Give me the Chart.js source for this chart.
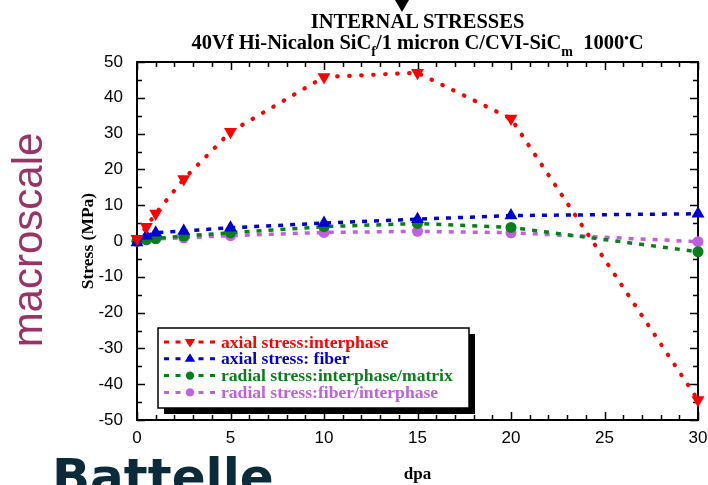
<!DOCTYPE html>
<html><head><meta charset="utf-8">
<script src="https://cdn.jsdelivr.net/npm/chart.js@4/dist/chart.umd.min.js"></script>
<style>
html,body{margin:0;padding:0;background:#fff;}
body{width:708px;height:485px;position:relative;overflow:hidden;}
#c{position:absolute;left:0;top:0;}
.title{position:absolute;left:117px;width:601px;text-align:center;font-family:"Liberation Serif","Times New Roman",serif;font-weight:bold;font-size:20.5px;line-height:20px;color:#000;white-space:nowrap;}
.sub{position:relative;top:7px;font-size:14px;}
.dot{position:relative;top:-7px;font-size:13px;}
#macro{position:absolute;left:-92px;top:215px;width:240px;height:50px;line-height:50px;text-align:center;font-family:"Liberation Sans",Arial,sans-serif;font-size:42px;color:#993366;transform:rotate(-90deg);white-space:nowrap;}
#battelle{position:absolute;left:52px;top:447px;font-family:"DejaVu Sans",sans-serif;font-weight:bold;font-size:50px;line-height:60px;color:#0b2b3a;white-space:nowrap;}
#arrow{position:absolute;left:395px;top:0;width:0;height:0;border-left:7px solid transparent;border-right:7px solid transparent;border-top:12px solid #000;}
</style></head>
<body>
<canvas id="c" width="708" height="485"></canvas>
<div id="t1" class="title" style="top:11px">INTERNAL STRESSES</div>
<div id="t2" class="title" style="top:32px">40Vf Hi-Nicalon SiC<span class="sub">f</span>/1 micron C/CVI-SiC<span class="sub">m</span>&nbsp; 1000<span class="dot">&#8226;</span>C</div>
<div id="macro">macroscale</div>
<div id="battelle">Battelle</div>
<div id="arrow"></div>
<script>
// ---- data ----
const dpa = [0, 0.5, 1, 2.5, 5, 10, 15, 20, 30];
const axialInterphase   = [0.6, 4.0, 7.7, 17.3, 30.5, 45.8, 47.0, 34.2, -44.4];
const axialFiber        = [-0.4, 1.5, 2.3, 2.8, 3.7, 5.0, 6.1, 7.1, 7.6];
const radialInterMatrix = [-0.1, 0.4, 0.7, 1.4, 2.3, 4.0, 4.9, 3.8, -3.0];
const radialFiberInter  = [0.0, 0.3, 0.6, 0.9, 1.5, 2.4, 2.7, 2.3, -0.2];
const seriesLabels = ['axial stress:interphase', 'axial stress: fiber', 'radial stress:interphase/matrix', 'radial stress:fiber/interphase'];
const xAxisTitle = 'dpa';
const yAxisTitle = 'Stress (MPa)';

const seriesColors = ['#ff0000', '#0000d0', '#08801a', '#c060e0'];
const seriesValues = [axialInterphase, axialFiber, radialInterMatrix, radialFiberInter];
const markerStyles = [
  {pointStyle:'triangle', rotation:180, radius:7.5},
  {pointStyle:'triangle', rotation:0, radius:7.5},
  {pointStyle:'circle', rotation:0, radius:5.5},
  {pointStyle:'circle', rotation:0, radius:5.5}
];

const datasets = seriesValues.map((vals, i) => ({
  label: seriesLabels[i],
  data: dpa.map((x, j) => ({x: x, y: vals[j]})),
  showLine: true,
  borderColor: seriesColors[i],
  backgroundColor: seriesColors[i],
  borderWidth: i === 0 ? 4.2 : 3.5,
  borderDash: i === 0 ? [0.5, 11.5] : [5, 7],
  borderCapStyle: i === 0 ? 'round' : 'butt',
  pointStyle: markerStyles[i].pointStyle,
  rotation: markerStyles[i].rotation,
  pointRadius: markerStyles[i].radius,
  pointHoverRadius: markerStyles[i].radius,
  pointBorderWidth: 0,
  pointBackgroundColor: seriesColors[i],
  tension: 0,
  clip: false
}));

const framePlugin = {
  id: 'frame',
  beforeDatasetsDraw(chart) {
    const ctx = chart.ctx, a = chart.chartArea;
    const xs = chart.scales.x, ys = chart.scales.y;
    ctx.save();
    ctx.strokeStyle = '#000';
    ctx.lineWidth = 1.5;
    for (let v = xs.min; v <= xs.max + 1e-9; v += 1) {
      const px = Math.round(xs.getPixelForValue(v)) + 0.5;
      const len = (v % 5 === 0) ? 8 : 5;
      ctx.beginPath();
      ctx.moveTo(px, a.bottom); ctx.lineTo(px, a.bottom - len);
      ctx.moveTo(px, a.top); ctx.lineTo(px, a.top + len);
      ctx.stroke();
    }
    for (let v = ys.min; v <= ys.max + 1e-9; v += 5) {
      const py = Math.round(ys.getPixelForValue(v)) + 0.5;
      const len = (v % 10 === 0) ? 8 : 5;
      ctx.beginPath();
      ctx.moveTo(a.left, py); ctx.lineTo(a.left + len, py);
      ctx.moveTo(a.right, py); ctx.lineTo(a.right - len, py);
      ctx.stroke();
    }
    ctx.lineWidth = 2;
    ctx.strokeRect(a.left, a.top, a.right - a.left, a.bottom - a.top);
    ctx.restore();
  }
};

const legendPlugin = {
  id: 'customLegend',
  afterDraw(chart) {
    const ctx = chart.ctx;
    const bx = 158, by = 328, bw = 311, bh = 80, sh = 6;
    ctx.save();
    ctx.fillStyle = '#000';
    ctx.fillRect(bx + sh, by + sh, bw, bh);
    ctx.fillStyle = '#fff';
    ctx.fillRect(bx, by, bw, bh);
    ctx.strokeStyle = '#000';
    ctx.lineWidth = 1.5;
    ctx.strokeRect(bx, by, bw, bh);
    chart.data.datasets.forEach((ds, i) => {
      const y = by + 14 + i * 16.8;
      ctx.strokeStyle = ds.borderColor;
      ctx.lineWidth = 3;
      ctx.setLineDash([5, 6.5]);
      ctx.lineCap = 'butt';
      ctx.beginPath();
      ctx.moveTo(164, y); ctx.lineTo(217, y);
      ctx.stroke();
      ctx.setLineDash([]);
      ctx.fillStyle = ds.borderColor;
      const mx = 190;
      ctx.beginPath();
      if (ds.pointStyle === 'triangle') {
        const r = 5.5;
        const dir = ds.rotation === 180 ? 1 : -1;
        ctx.moveTo(mx, y + dir * r);
        ctx.lineTo(mx - r * 0.866 * 1.1, y - dir * r * 0.55);
        ctx.lineTo(mx + r * 0.866 * 1.1, y - dir * r * 0.55);
        ctx.closePath();
      } else {
        ctx.arc(mx, y, 4.2, 0, Math.PI * 2);
      }
      ctx.fill();
      ctx.font = 'bold 17.6px "Liberation Serif", "Times New Roman", serif';
      ctx.textBaseline = 'middle';
      ctx.textAlign = 'left';
      ctx.fillText(ds.label, 221, y + 1);
    });
    ctx.restore();
  }
};

new Chart(document.getElementById('c'), {
  type: 'scatter',
  data: { datasets },
  options: {
    responsive: false,
    animation: false,
    events: [],
    layout: { padding: { top: 62, right: 10, left: 0, bottom: 0 } },
    plugins: { legend: { display: false }, tooltip: { enabled: false }, title: { display: false } },
    scales: {
      x: {
        type: 'linear', min: 0, max: 30,
        grid: { display: false, drawTicks: false },
        border: { display: false },
        ticks: { stepSize: 5, color: '#000', padding: 8, font: { family: '"Liberation Sans", Arial, sans-serif', size: 17 } },
        title: { display: true, text: xAxisTitle, color: '#000', padding: { top: 0, bottom: 0 }, font: { family: '"Liberation Serif", "Times New Roman", serif', size: 17, weight: 'bold' } },
        afterFit(s) { s.height = 65; s.paddingLeft = 0; s.paddingRight = 0; }
      },
      y: {
        type: 'linear', min: -50, max: 50,
        grid: { display: false, drawTicks: false },
        border: { display: false },
        ticks: { stepSize: 10, color: '#000', padding: 14, font: { family: '"Liberation Sans", Arial, sans-serif', size: 17 } },
        title: { display: true, text: yAxisTitle, color: '#000', padding: { top: 78, bottom: 0 }, font: { family: '"Liberation Serif", "Times New Roman", serif', size: 17.5, weight: 'bold' } },
        afterFit(s) { s.width = 137; s.paddingTop = 0; s.paddingBottom = 0; }
      }
    }
  },
  plugins: [framePlugin, legendPlugin]
});
</script>
</body></html>
